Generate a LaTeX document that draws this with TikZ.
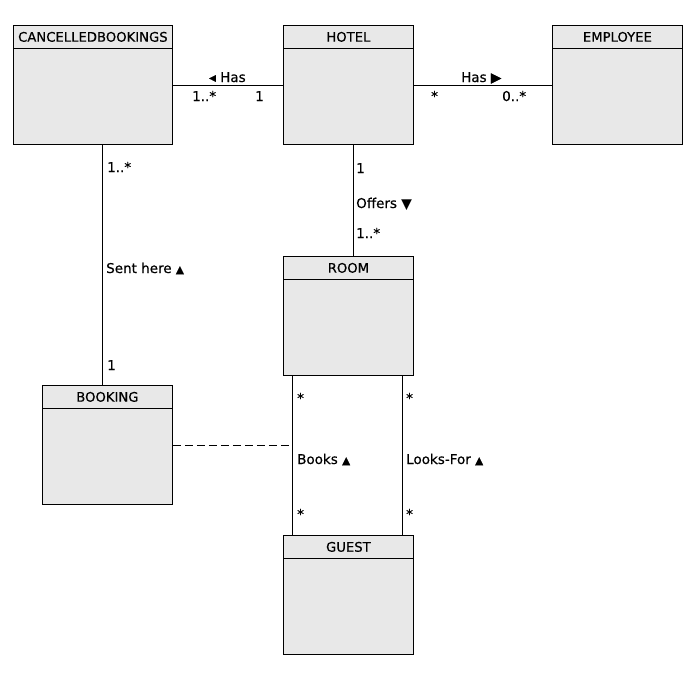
\documentclass[tikz,border=0pt]{standalone}
\usepackage{fontspec}
\setmainfont{DejaVu Sans}[FakeBold=0.5]
\usepackage{tikz}
\usetikzlibrary{positioning}
\definecolor{boxgrey}{rgb}{0.91, 0.91, 0.91}
\newcommand{\tri}[1]{{\fontsize{10.5}{12}\selectfont #1}}

\begin{document}
\begin{tikzpicture}[x=1pt, y=-1pt, font=\fontsize{13.5}{15}\selectfont]
\useasboundingbox (0,0) rectangle (695,694);
\tikzstyle{cls}=[draw=black, fill=boxgrey, minimum width=130pt, minimum height=119pt, anchor=north west, inner sep=0pt, line width=0.8pt]
\tikzstyle{clsh}=[draw=black, fill=boxgrey, minimum width=130pt, minimum height=23pt, inner sep=0pt, line width=0.8pt, font=\fontsize{13.2}{15}\selectfont]
\tikzstyle{lbl}=[inner sep=0pt, anchor=base west]
\tikzstyle{assoc}=[line width=0.8pt]
%%
\node (cb) at (13,25) [cls, minimum width=159pt] {};
\node (hotel) at (283,25) [cls] {};
\node (emp) at (552,25) [cls] {};
\node (room) at (283,256) [cls] {};
\node (bk) at (42,385) [cls] {};
\node (guest) at (283,535) [cls] {};

%% class names
\node [below=0pt of cb.north, clsh, minimum width=159pt](cbh) {CANCELLEDBOOKINGS};
\node [below=0pt of hotel.north, clsh](hotelh) {HOTEL};
\node [below=0pt of emp.north, clsh](emph) {EMPLOYEE};
\node [below=0pt of room.north, clsh](roomh) {ROOM};
\node [below=0pt of bk.north, clsh](bkh) {BOOKING};
\node [below=0pt of guest.north, clsh](guesth) {GUEST};

%% associations
\draw [assoc] (cb) -- (hotel);
\draw [assoc] (hotel) -- (emp);
\draw [assoc] ([xshift=5pt]hotel.south) -- ([xshift=5pt]room.north);
\draw [assoc] ([xshift=9.5pt]cb.south) -- ([xshift=-5pt]bk.north);

\coordinate (rl) at ([xshift=-56pt]room.south);
\coordinate (rr) at ([xshift=54pt]room.south);
\coordinate (gl) at ([xshift=-56pt]guest.north);
\coordinate (gr) at ([xshift=54pt]guest.north);
\draw [assoc] (rl) -- (gl);
\draw [assoc] (rr) -- (gr);
\draw [assoc, dash pattern=on 8pt off 4pt] (bk.east) -- (bk.east -| rl);

%% labels
\node (l1) at (209,82) [lbl] {◂ Has};
\node (l2) at (192,101) [lbl] {1..*};
\node (l3) at (255,101) [lbl] {1};
\node (l4) at (461,82) [lbl] {Has ▶};
\node (l5) at (431,101) [lbl] {*};
\node (l6) at (502,101) [lbl] {0..*};

\node (l7) at (107,172) [lbl] {1..*};
\node (l8) at (106,273) [lbl] {Sent here \tri{▲}};
\node (l9) at (107,370) [lbl] {1};

\node (l10) at (356,173) [lbl] {1};
\node (l11) at (356,208) [lbl] {Offers ▼};
\node (l12) at (356,238) [lbl] {1..*};

\node (l13) at (297,403) [lbl] {*};
\node (l14) at (297,464) [lbl] {Books \tri{▲}};
\node (l15) at (297,519) [lbl] {*};
\node (l16) at (406,403) [lbl] {*};
\node (l17) at (406,464) [lbl] {Looks-For \tri{▲}};
\node (l18) at (406,519) [lbl] {*};
\end{tikzpicture}
\end{document}
